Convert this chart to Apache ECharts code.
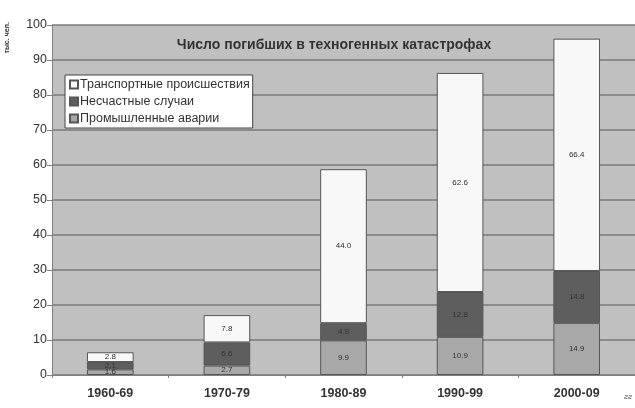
<!DOCTYPE html>
<html>
<head>
<meta charset="utf-8">
<script src="https://cdn.jsdelivr.net/npm/echarts@6/dist/echarts.min.js"></script>
<style>
    html, body { margin: 0; padding: 0; background: #fff; }
    #chart { width: 635px; height: 408px; }
</style>
</head>
<body>
<div id="chart"></div>
<script>
    // данные
    var periods = ['1960-69', '1970-79', '1980-89', '1990-99', '2000-09'];
    var industrial = [1.6, 2.7, 9.9, 10.9, 14.9];
    var accidents = [2.1, 6.6, 4.9, 12.8, 14.8];
    var transport = [2.8, 7.8, 44.0, 62.6, 66.4];
    var yTicks = [0, 10, 20, 30, 40, 50, 60, 70, 80, 90, 100];

    var chart = echarts.init(document.getElementById('chart'));

    function seg(name, data, color) {
        return {
            name: name,
            type: 'bar',
            stack: 'total',
            barWidth: '40%',
            data: data,
            itemStyle: { color: color, borderColor: '#555', borderWidth: 1 },
            label: {
                show: true,
                position: 'inside',
                fontSize: 8,
                color: '#333',
                fontFamily: 'Liberation Sans',
                formatter: function (p) { return p.value.toFixed(1); }
            }
        };
    }

    chart.setOption({
        animation: false,
        textStyle: { fontFamily: 'Liberation Sans' },
        title: {
            text: 'Число погибших в техногенных катастрофах',
            left: 329,
            textAlign: 'center',
            top: 33,
            textStyle: { fontSize: 14, fontWeight: 'bold', color: '#333' }
        },
        legend: {
            orient: 'vertical',
            left: 65,
            top: 75,
            data: ['Транспортные происшествия', 'Несчастные случаи', 'Промышленные аварии'],
            icon: 'rect',
            itemWidth: 8,
            itemHeight: 8,
            itemGap: 4,
            padding: [3, 3, 3, 4],
            backgroundColor: '#fff',
            borderColor: '#444',
            borderWidth: 1,
            borderRadius: 0,
            textStyle: { fontSize: 12.5, color: '#333', padding: [0, 0, 0, -3] }
        },
        grid: {
            left: 52,
            right: -4,
            top: 25,
            bottom: 33,
            show: true,
            backgroundColor: '#c0c0c0',
            borderColor: '#808080',
            borderWidth: 0
        },
        xAxis: {
            type: 'category',
            data: periods,
            axisLine: { lineStyle: { color: '#808080' } },
            axisTick: { show: true, length: 3, lineStyle: { color: '#808080' } },
            axisLabel: { fontSize: 12.5, fontWeight: 'bold', color: '#333', margin: 12 }
        },
        yAxis: {
            type: 'value',
            min: yTicks[0],
            max: yTicks[yTicks.length - 1],
            interval: 10,
            axisLine: { show: true, lineStyle: { color: '#808080' } },
            axisTick: { show: true, length: 5, lineStyle: { color: '#808080' } },
            axisLabel: { fontSize: 12.5, color: '#333', margin: 5 },
            splitLine: { lineStyle: { color: '#7a7a7a', width: 1.5 } }
        },
        graphic: [
            {
                type: 'text',
                left: 4,
                top: 22,
                rotation: Math.PI / 2,
                style: { text: 'тыс. чел.', fontSize: 7, fontWeight: 'bold', fill: '#333', fontFamily: 'Liberation Sans' }
            },
            {
                type: 'text',
                left: 624,
                top: 393,
                style: { text: 'гг', fontSize: 8, fontStyle: 'italic', fill: '#555', fontFamily: 'Liberation Sans' }
            }
        ],
        series: [
            seg('Промышленные аварии', industrial, '#a8a8a8'),
            seg('Несчастные случаи', accidents, '#5e5e5e'),
            seg('Транспортные происшествия', transport, '#f8f8f8')
        ]
    });
</script>
</body>
</html>
